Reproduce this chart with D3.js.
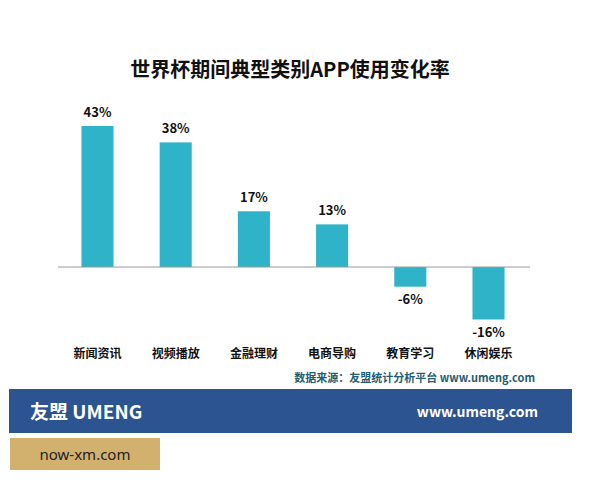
<!DOCTYPE html><html><head><meta charset="utf-8"><script src="https://cdn.jsdelivr.net/npm/d3@7"></script>
<style>body{margin:0;background:#fff}</style></head><body><script>
const categories=["新闻资讯","视频播放","金融理财","电商导购","教育学习","休闲娱乐"];
const values=[43,38,17,13,-6,-16];
const labels=["43%","38%","17%","13%","-6%","-16%"];
const W=600,H=480,f="'Noto Sans CJK SC',sans-serif";
const svg=d3.select("body").append("svg").attr("width",W).attr("height",H);
svg.append("text").attr("x",290).attr("y",77).attr("text-anchor","middle").attr("font-family",f).attr("font-weight","bold").attr("font-size",20).attr("fill","#111").text("世界杯期间典型类别APP使用变化率");
const x=d3.scaleBand().domain(categories).range([58,528]).paddingInner(0.59).paddingOuter(0.3);
const y=d3.scaleLinear().domain([-16,43]).range([319.5,126]);
svg.selectAll(".b").data(values).join("rect").attr("x",(d,i)=>x(categories[i])).attr("width",x.bandwidth())
 .attr("y",d=>y(Math.max(0,d))).attr("height",d=>Math.abs(y(d)-y(0))).attr("fill","#2fb3c9");
svg.append("line").attr("x1",58).attr("x2",530).attr("y1",y(0)).attr("y2",y(0)).attr("stroke","#999");
svg.selectAll(".v").data(values).join("text").attr("x",(d,i)=>x(categories[i])+x.bandwidth()/2)
 .attr("y",d=>d>=0?y(d)-9:y(d)+17).attr("text-anchor","middle").attr("font-family",f).attr("font-weight","bold").attr("font-size",13).attr("fill","#111").text((d,i)=>labels[i]);
svg.selectAll(".c").data(categories).join("text").attr("x",d=>x(d)+x.bandwidth()/2).attr("y",358).attr("text-anchor","middle").attr("font-family",f).attr("font-weight","bold").attr("font-size",12).attr("fill","#111").text(d=>d);
svg.append("text").attr("x",535).attr("y",382).attr("text-anchor","end").attr("font-family",f).attr("font-weight","bold").attr("font-size",11).attr("fill","#1f5d73").text("数据来源：友盟统计分析平台 www.umeng.com");
svg.append("rect").attr("x",9).attr("y",389).attr("width",563).attr("height",44).attr("fill","#2b5491");
svg.append("text").attr("x",30).attr("y",419).attr("font-family",f).attr("font-weight","bold").attr("font-size",19).attr("fill","#fff").text("友盟 UMENG");
svg.append("text").attr("x",538).attr("y",417).attr("text-anchor","end").attr("font-family",f).attr("font-weight","bold").attr("font-size",14).attr("fill","#fff").text("www.umeng.com");
svg.append("rect").attr("x",10).attr("y",438).attr("width",150).attr("height",32).attr("fill","#d2b16f");
svg.append("text").attr("x",85).attr("y",460).attr("text-anchor","middle").attr("font-family","'Noto Sans',sans-serif").attr("font-size",15).attr("fill","#222").text("now-xm.com");
</script></body></html>
